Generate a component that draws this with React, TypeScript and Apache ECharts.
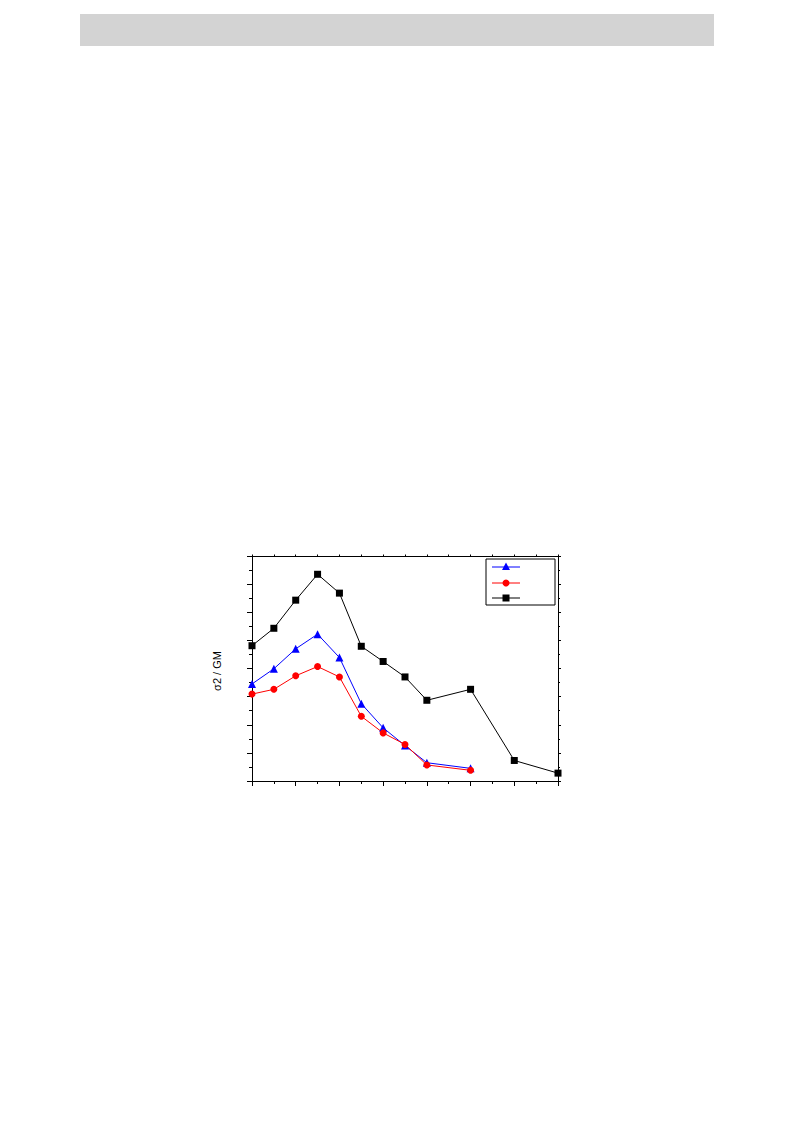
import React, { useEffect, useRef } from "react";
import * as echarts from "echarts";

const xValues = [0, 0.5, 1, 1.5, 2, 2.5, 3, 3.5, 4, 5, 6, 7];
const blackValues = [4.81, 5.43, 6.43, 7.35, 6.68, 4.79, 4.25, 3.7, 2.87, 3.26, 0.73, 0.28];
const blueValues = [3.45, 3.99, 4.7, 5.22, 4.39, 2.75, 1.89, 1.26, 0.65, 0.45];
const redValues = [3.09, 3.26, 3.74, 4.07, 3.7, 2.3, 1.71, 1.3, 0.57, 0.38];
const yAxisName = "σ2 / GM";

const pair = (vals: number[]) => vals.map((v, i) => [xValues[i], v]);

export default function App() {
  const ref = useRef<HTMLDivElement>(null);
  useEffect(() => {
    document.body.style.margin = "0";
    const chart = echarts.init(ref.current!, null, { renderer: "svg" });
    const axisCommon = (major: number, minor: number) => ({
      axisLine: { show: true, onZero: false, lineStyle: { color: "#000", width: 1 } },
      axisTick: { show: true, inside: false, length: major, lineStyle: { color: "#000" } },
      minorTick: { show: true, splitNumber: 2, length: minor, lineStyle: { color: "#000" } },
      axisLabel: { show: false },
      splitLine: { show: false },
    });
    const xBase = { type: "value", min: 0, max: 7, interval: 1 };
    const yBase = { type: "value", min: 0, max: 8, interval: 1 };
    const lineSeries = (data: number[], color: string, symbol: string, size: number) => ({
      type: "line",
      data: pair(data),
      symbol,
      symbolSize: size,
      itemStyle: { color },
      lineStyle: { color, width: 1 },
      showSymbol: true,
    });
    const legendRows = [
      { y: 567, color: "#0000ff", shape: "triangle" },
      { y: 583, color: "#ff0000", shape: "circle" },
      { y: 598, color: "#000000", shape: "rect" },
    ];
    const legendGraphics: any[] = [
      { type: "rect", shape: { x: 486, y: 559, width: 69, height: 46 }, style: { fill: "#fff", stroke: "#000", lineWidth: 1 } },
    ];
    legendRows.forEach((r) => {
      legendGraphics.push({ type: "line", shape: { x1: 492, y1: r.y, x2: 520, y2: r.y }, style: { stroke: r.color, lineWidth: 1 } });
      if (r.shape === "triangle") {
        legendGraphics.push({ type: "polygon", shape: { points: [[506, r.y - 4.5], [502, r.y + 3], [510, r.y + 3]] }, style: { fill: r.color } });
      } else if (r.shape === "circle") {
        legendGraphics.push({ type: "circle", shape: { cx: 506, cy: r.y, r: 3.5 }, style: { fill: r.color } });
      } else {
        legendGraphics.push({ type: "rect", shape: { x: 502.5, y: r.y - 3.5, width: 7, height: 7 }, style: { fill: r.color } });
      }
    });
    chart.setOption({
      animation: false,
      grid: { left: 252, top: 556, width: 306, height: 225 },
      xAxis: [
        { ...xBase, ...axisCommon(5, 3), position: "bottom" },
        { ...xBase, ...axisCommon(1.5, 1.5), position: "top" },
      ],
      yAxis: [
        { ...yBase, ...axisCommon(5, 3), position: "left" },
        { ...yBase, ...axisCommon(3, 2), position: "right" },
      ],
      series: [
        lineSeries(blackValues, "#000000", "rect", 7),
        lineSeries(blueValues, "#0000ff", "triangle", 8),
        lineSeries(redValues, "#ff0000", "circle", 7),
      ],
      graphic: [
        { type: "rect", shape: { x: 80, y: 14, width: 634, height: 32 }, style: { fill: "#d3d3d3" } },
        {
          type: "text",
          x: 217,
          y: 671,
          rotation: Math.PI / 2,
          style: { text: yAxisName, font: "11px Liberation Sans, Arial, sans-serif", fill: "#000", align: "center", verticalAlign: "middle" },
        },
        ...legendGraphics,
      ],
    });
    return () => chart.dispose();
  }, []);
  return <div ref={ref} style={{ width: 793, height: 1121 }} />;
}
